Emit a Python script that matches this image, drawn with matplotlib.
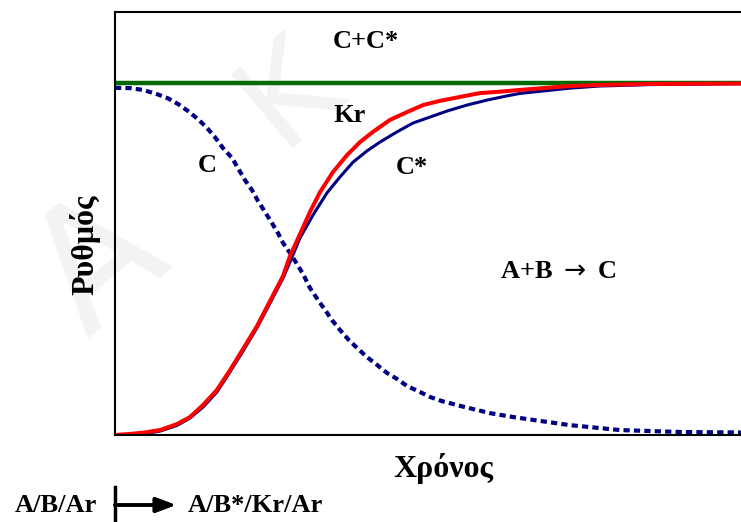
import matplotlib
matplotlib.use("Agg")
import matplotlib.pyplot as plt
from matplotlib.lines import Line2D

# (x: time 0..10, y: rate, green level = 1)
kr_x = [0, 0.240, 0.447, 0.719, 0.990, 1.198, 1.406, 1.629, 1.837, 2.045, 2.268, 2.476,
        2.684, 2.796, 2.955, 3.115, 3.275, 3.482, 3.706, 3.914, 4.121, 4.393, 4.665,
        4.920, 5.192, 5.511, 5.831, 6.150, 6.470, 7.268, 7.748, 8.546, 10]
kr_y = [0, 0.003, 0.0065, 0.014, 0.031, 0.051, 0.085, 0.128, 0.184, 0.244, 0.309, 0.380,
        0.451, 0.508, 0.570, 0.633, 0.689, 0.746, 0.794, 0.831, 0.860, 0.894, 0.916,
        0.936, 0.948, 0.959, 0.970, 0.974, 0.979, 0.990, 0.993, 0.996, 0.997]

cs_x = [0, 0.240, 0.447, 0.719, 0.990, 1.198, 1.406, 1.629, 1.837, 2.045, 2.268, 2.476,
        2.684, 2.796, 2.955, 3.163, 3.387, 3.594, 3.802, 4.026, 4.233, 4.505, 4.760,
        5.032, 5.304, 5.623, 5.942, 6.262, 6.470, 7.268, 7.748, 8.546, 10]
cs_y = [0, 0, 0.003, 0.011, 0.027, 0.048, 0.079, 0.122, 0.179, 0.238, 0.304, 0.374,
        0.445, 0.491, 0.559, 0.624, 0.687, 0.732, 0.774, 0.806, 0.831, 0.860, 0.885,
        0.902, 0.919, 0.936, 0.950, 0.962, 0.969, 0.984, 0.990, 0.994, 0.997]

c_x = [0, 0.240, 0.447, 0.671, 0.847, 1.006, 1.166, 1.326, 1.470, 1.597, 1.725, 1.869,
       1.965, 2.077, 2.188, 2.284, 2.396, 2.508, 2.604, 2.684, 2.827, 3.003, 3.115,
       3.243, 3.355, 3.466, 3.594, 3.722, 3.866, 4.026, 4.185, 4.345, 4.505, 4.665,
       4.872, 5.032, 5.224, 5.399, 5.591, 5.783, 5.990, 6.358, 6.789, 7.268, 8.067,
       9.026, 10]
c_y = [0.985, 0.984, 0.979, 0.967, 0.955, 0.939, 0.919, 0.896, 0.871, 0.845, 0.814, 0.786,
       0.757, 0.723, 0.695, 0.664, 0.633, 0.601, 0.573, 0.545, 0.508, 0.457, 0.417,
       0.383, 0.355, 0.326, 0.298, 0.272, 0.247, 0.221, 0.199, 0.176, 0.159, 0.139,
       0.122, 0.108, 0.096, 0.088, 0.079, 0.071, 0.062, 0.051, 0.040, 0.028, 0.014,
       0.0085, 0.0071]

total_x = [0, 10]
total_y = [1.0, 1.0]

W, H = 741, 522
fig = plt.figure(figsize=(W / 100, H / 100), dpi=100)
ax = fig.add_axes([115 / W, 1 - 435 / H, 1 - 115 / W, (435 - 12) / H])

serif = "Liberation Serif"

# faint watermark
fig.text(100 / W, 1 - 265 / H, "Α", fontsize=120, color="#f3f3f3", rotation=40,
         ha="center", va="center", family="DejaVu Sans", zorder=-1)
fig.text(290 / W, 1 - 92 / H, "Κ", fontsize=95, color="#f3f3f3", rotation=40,
         ha="center", va="center", family="DejaVu Sans", zorder=-1)
ax.patch.set_alpha(0)

ax.plot(total_x, total_y, color="#006a00", lw=3.2, solid_capstyle="butt")
ax.plot(c_x, c_y, color="#000080", lw=3, linestyle=(0, (1.5, 1.0)))
ax.plot(cs_x, cs_y, color="#000080", lw=2.2)
ax.plot(kr_x, kr_y, color="#ff0000", lw=2.9)

ax.set_xlim(0, 10)
ax.set_ylim(0, 1.2)
ax.set_xticks([])
ax.set_yticks([])
ax.spines["right"].set_visible(False)
for s in ["left", "top", "bottom"]:
    ax.spines[s].set_linewidth(1.5)
    ax.spines[s].set_color("black")

tkw = dict(family=serif, fontweight="bold", ha="center", va="center", fontsize=19)
ax.text(4.0, 1.116, "C+C*", **tkw)
ax.text(3.75, 0.905, "Kr", **tkw)
ax.text(1.47, 0.764, "C", **tkw)
ax.text(4.75, 0.758, "C*", **tkw)
ax.text(7.08, 0.465, "A+B $\\rightarrow$ C", **tkw)

fig.text(443 / W, 1 - 468 / H, "Χρόνος", family=serif, fontweight="bold",
         fontsize=23, ha="center", va="center")
fig.text(85 / W, 1 - 245 / H, "Ρυθμός", family=serif, fontweight="bold",
         fontsize=23, ha="center", va="center", rotation=90)

fig.text(56 / W, 1 - 506 / H, "A/B/Ar", family=serif, fontweight="bold",
         fontsize=19, ha="center", va="center")
fig.text(255 / W, 1 - 506 / H, "A/B*/Kr/Ar", family=serif, fontweight="bold",
         fontsize=19, ha="center", va="center")
fig.add_artist(Line2D([115 / W, 115 / W], [1 - 487 / H, 0], color="black", lw=2.5,
                      transform=fig.transFigure))
fig.add_artist(plt.annotate("", xy=(176 / W, 1 - 505 / H), xytext=(115 / W, 1 - 505 / H),
                            xycoords="figure fraction",
                            arrowprops=dict(arrowstyle="-|>,head_length=1.2,head_width=0.45",
                                            color="black", lw=2.5, shrinkA=0, shrinkB=0)))

fig.savefig("out.png", dpi=100)
